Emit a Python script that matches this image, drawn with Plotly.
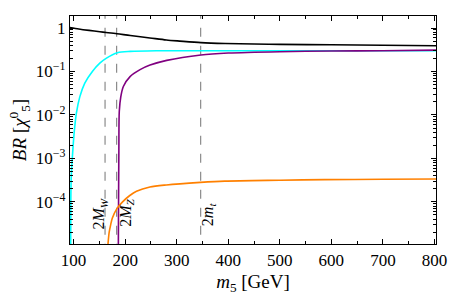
import plotly.graph_objects as go

# ---- data ----
m_black = [93, 110, 130, 151, 163, 184, 210, 248, 280, 306, 347, 394, 450, 500, 600, 700, 803]
br_black = [1.03, 0.95, 0.88, 0.82, 0.79, 0.74, 0.67, 0.59, 0.53, 0.50, 0.46, 0.44, 0.43, 0.42, 0.41, 0.40, 0.39]

m_cyan = [94.3, 94.6, 95.5, 97.7, 101, 105.4, 112, 121.7, 136.4, 150.8, 163, 185, 210, 260, 347, 500, 650, 803]
br_cyan = [1e-5, 1.1e-4, 4e-4, 1.1e-3, 3.8e-3, 0.011, 0.026, 0.054, 0.10, 0.155, 0.20, 0.27, 0.29, 0.30, 0.30, 0.30, 0.30, 0.30]

m_purple = [186.8, 187.2, 187.8, 188.6, 191.5, 196.5, 209.5, 228.9, 248.3, 280.6, 347, 400, 500, 600, 700, 803]
br_purple = [1e-5, 1e-4, 1.5e-3, 0.012, 0.026, 0.045, 0.076, 0.11, 0.14, 0.18, 0.24, 0.265, 0.285, 0.295, 0.30, 0.31]

m_orange = [166.5, 169, 172, 175, 184, 195, 209, 222, 248, 280, 346, 393, 500, 587, 700, 803]
br_orange = [1e-5, 2e-5, 3e-5, 4.2e-5, 7e-5, 1.0e-4, 1.4e-4, 1.75e-4, 2.2e-4, 2.45e-4, 2.8e-4, 3.0e-4, 3.15e-4, 3.25e-4, 3.3e-4, 3.35e-4]

thresholds = [161, 183.5, 346.5]
threshold_labels = ["2<i>M</i><sub><i>W</i></sub>", "2<i>M</i><sub><i>Z</i></sub>", "2<i>m</i><sub><i>t</i></sub>"]
label_x = [150, 201, 361]
label_logy = [-4.26, -4.26, -4.28]   # log10(BR) positions of the labels

x_ticks = [100, 200, 300, 400, 500, 600, 700, 800]
y_ticks = [1e-4, 1e-3, 1e-2, 1e-1, 1]
y_ticktext = ["10<sup>−4</sup>", "10<sup>−3</sup>", "10<sup>−2</sup>", "10<sup>−1</sup>", "1"]

FONT = "Liberation Serif"

fig = go.Figure()

for xv in thresholds:
    fig.add_trace(go.Scatter(x=[xv, xv], y=[1e-6, 10], mode="lines",
                             line=dict(color="#808080", width=1.1, dash="dash"),
                             showlegend=False, hoverinfo="skip"))

series = [
    (m_black, br_black, "#000000"),
    (m_cyan, br_cyan, "#00FFFF"),
    (m_purple, br_purple, "#800080"),
    (m_orange, br_orange, "#FF8000"),
]
for xs, ys, col in series:
    fig.add_trace(go.Scatter(x=xs, y=ys, mode="lines",
                             line=dict(color=col, width=1.6, shape="spline", smoothing=0.8),
                             showlegend=False))

for txt, xv, yv in zip(threshold_labels, label_x, label_logy):
    fig.add_annotation(x=xv, y=yv, xref="x", yref="y", text=txt, showarrow=False,
                       textangle=-90, xanchor="center", yanchor="middle",
                       font=dict(family=FONT, size=16, color="black"))

minor_y = []
for k in range(-5, 1):
    for d in range(2, 10):
        minor_y.append(d * 10**k)

fig.update_layout(
    width=449, height=303,
    margin=dict(l=70, r=13, t=16, b=59),
    paper_bgcolor="white", plot_bgcolor="white",
    font=dict(family=FONT, size=17, color="black"),
    xaxis=dict(range=[93, 803], tickvals=x_ticks, ticks="inside", ticklen=5,
               tickwidth=1, tickcolor="black", automargin=False,
               showline=True, linecolor="black", linewidth=1.3, mirror="allticks",
               showgrid=False, zeroline=False,
               minor=dict(dtick=50, tick0=0, ticks="inside", ticklen=3, tickcolor="black", showgrid=False),
               title=dict(text="<i>m</i><sub>5</sub> [GeV]", font=dict(family=FONT, size=19), standoff=6),
               tickfont=dict(family=FONT, size=17)),
    yaxis=dict(type="log", range=[-4.97, 0.276], tickvals=y_ticks, ticktext=y_ticktext,
               ticks="inside", ticklen=5, tickwidth=1, tickcolor="black", automargin=False,
               showline=True, linecolor="black", linewidth=1.3, mirror="allticks",
               showgrid=False, zeroline=False,
               minor=dict(tickvals=minor_y, ticks="inside", ticklen=3, tickcolor="black", showgrid=False),
               title=dict(text="<i>BR</i> [<i>χ</i><sup>0</sup><sub>5</sub>]", font=dict(family=FONT, size=19), standoff=4),
               tickfont=dict(family=FONT, size=17)),
)

fig.write_html("out.html", config={"displayModeBar": False},
               post_script="document.body.style.margin='0px';document.body.style.overflow='hidden';")
